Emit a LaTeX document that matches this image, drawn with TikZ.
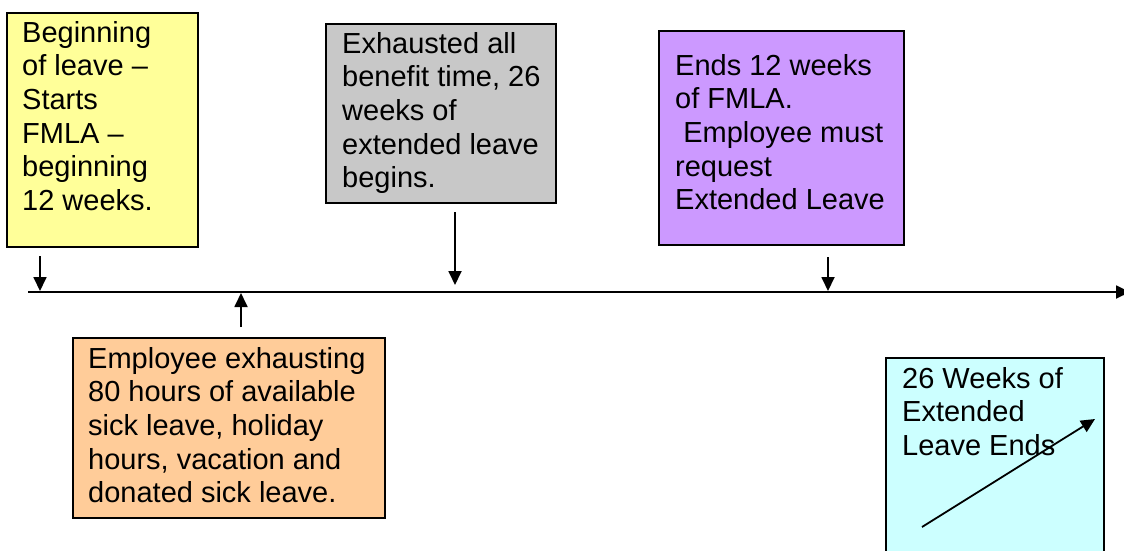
\documentclass[tikz,border=0pt]{standalone}
\usepackage{fontspec}
\setmainfont{Liberation Sans}
\usetikzlibrary{arrows.meta}
\definecolor{cyellow}{HTML}{FFFF99}
\definecolor{cgray}{HTML}{C8C8C8}
\definecolor{cpurple}{HTML}{CC99FF}
\definecolor{corange}{HTML}{FFCC99}
\definecolor{ccyan}{HTML}{CCFFFF}
\newcommand{\mylines}[1]{\begin{tabular}[t]{@{}l@{}}#1\end{tabular}}
\begin{document}
\begin{tikzpicture}[x=1pt,y=-1pt,
  boxstyle/.style={draw=black,line width=1.8pt,rectangle,inner sep=0pt,anchor=north west},
  txt/.style={anchor=base west,inner sep=0pt,font=\fontsize{29}{33.7}\selectfont},
  marker/.style={line width=1.8pt,-{Triangle[length=14pt,width=13pt]}}]
\useasboundingbox (0,0) rectangle (1124,550);
% boxes
\node[boxstyle,fill=cyellow,minimum width=191pt,minimum height=234pt] (yb) at (6,12) {};
\node[boxstyle,fill=cgray,minimum width=230pt,minimum height=179pt] (gb) at (325,23) {};
\node[boxstyle,fill=cpurple,minimum width=245pt,minimum height=214pt] (pb) at (658,30) {};
\node[boxstyle,fill=corange,minimum width=312pt,minimum height=180pt] (ob) at (72,337) {};
\node[boxstyle,fill=ccyan,minimum width=218pt,minimum height=210pt] (cb) at (885,357) {};
% texts
\node[txt] (yt) at (22,42) {\mylines{Beginning\\of leave --\\Starts\\FMLA --\\beginning\\12 weeks.}};
\node[txt] (gt) at (342,53) {\mylines{Exhausted all\\benefit time, 26\\weeks of\\extended leave\\begins.}};
\node[txt] (pt) at (675,75) {\mylines{Ends 12 weeks\\of FMLA.\\\ Employee must\\request\\Extended Leave}};
\node[txt] (ot) at (88,368) {\mylines{Employee exhausting\\80 hours of available\\sick leave, holiday\\hours, vacation and\\donated sick leave.}};
\node[txt] (ct) at (902,388) {\mylines{26 Weeks of\\Extended\\Leave Ends}};
% timeline
\coordinate (t0) at (28,292);
\coordinate (t1) at (1130,292);
\draw[marker] (t0) -- (t1);
% markers
\coordinate (ya) at (40,256); \coordinate (yz) at (40,291);
\coordinate (ga) at (455,212); \coordinate (gz) at (455,285);
\coordinate (pa) at (828,257); \coordinate (pz) at (828,291);
\coordinate (oa) at (241,327); \coordinate (oz) at (241,293);
\coordinate (ca) at (922,527); \coordinate (cz) at (1095,419);
\draw[marker] (ya) -- (yz);
\draw[marker] (ga) -- (gz);
\draw[marker] (pa) -- (pz);
\draw[marker] (oa) -- (oz);
\draw[marker] (ca) -- (cz);
\end{tikzpicture}
\end{document}
